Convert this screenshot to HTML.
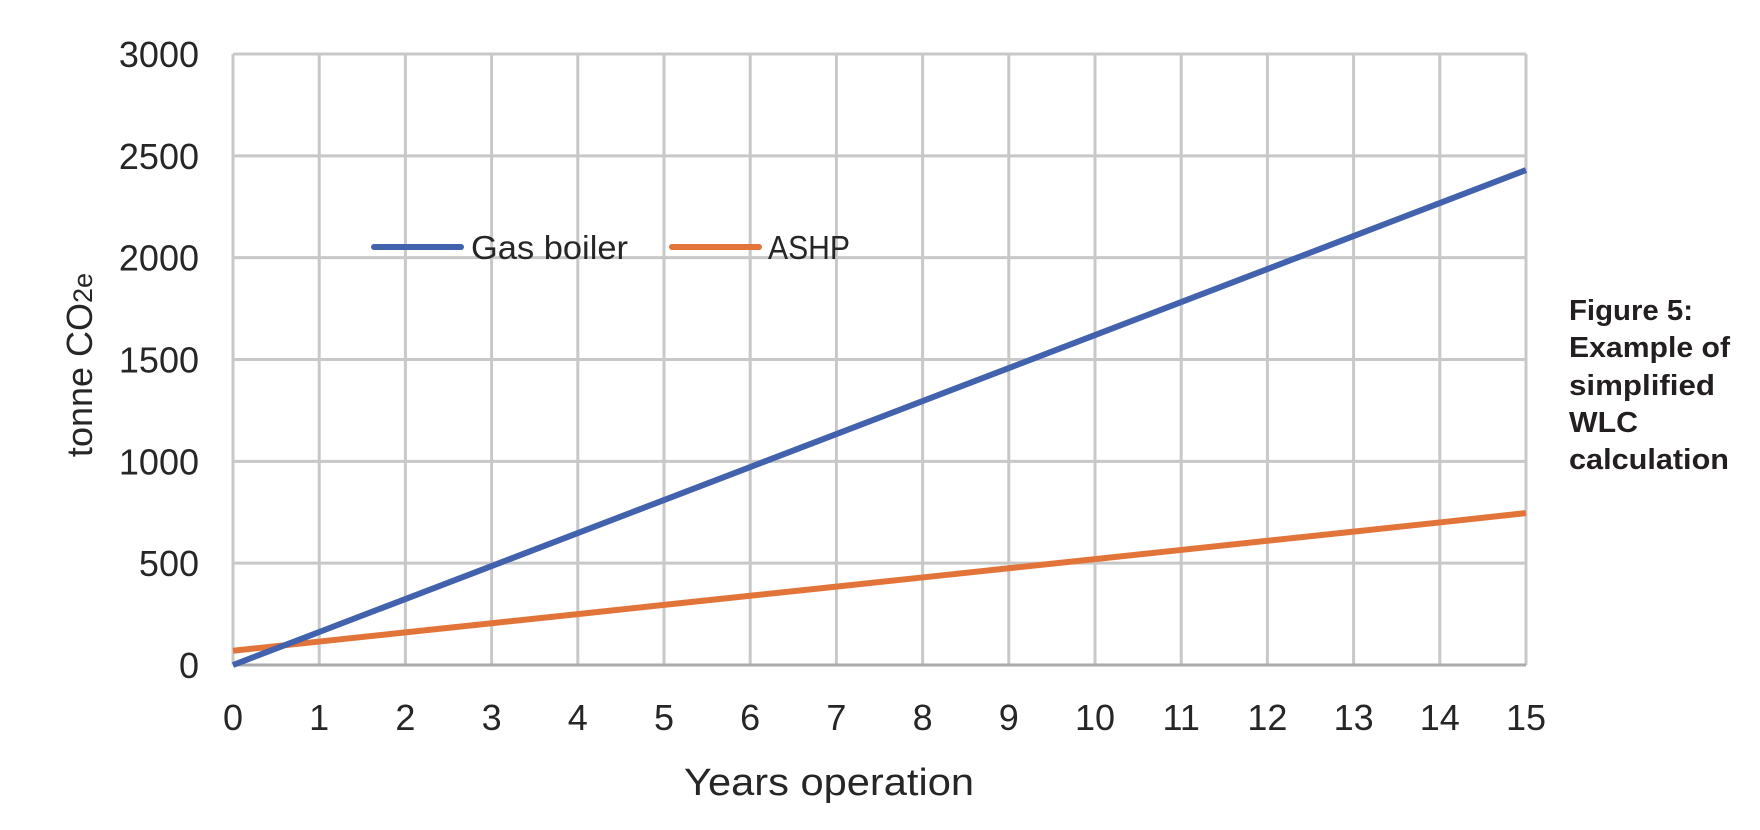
<!DOCTYPE html>
<html><head><meta charset="utf-8"><style>
body{margin:0;background:#fff}
svg{display:block;font-family:"Liberation Sans",sans-serif}
</style></head><body>
<svg id="chart" width="1760" height="830" viewBox="0 0 1760 830" xmlns="http://www.w3.org/2000/svg">
<g id="grid"></g>
<g id="ticks" fill="#262626" font-size="36"></g>
<g id="series"></g>
<text transform="translate(92,365) rotate(-90)" text-anchor="middle" font-size="36" fill="#262626">tonne CO<tspan font-size="27">2e</tspan></text>
<text x="829" y="795" text-anchor="middle" font-size="38" fill="#262626" textLength="290" lengthAdjust="spacingAndGlyphs">Years operation</text>
<g>
<line x1="374" y1="247" x2="461" y2="247" stroke="#4262AE" stroke-width="6" stroke-linecap="round"/>
<text x="471" y="259" font-size="33" fill="#262626" textLength="157" lengthAdjust="spacingAndGlyphs">Gas boiler</text>
<line x1="672" y1="247" x2="759" y2="247" stroke="#E2743A" stroke-width="6" stroke-linecap="round"/>
<text x="768" y="259" font-size="33" fill="#262626" textLength="82" lengthAdjust="spacingAndGlyphs">ASHP</text>
</g>
<g font-weight="bold" font-size="29" fill="#231f20">
<text x="1569" y="320" textLength="124" lengthAdjust="spacingAndGlyphs">Figure 5:</text>
<text x="1569" y="357" textLength="161" lengthAdjust="spacingAndGlyphs">Example of</text>
<text x="1569" y="395" textLength="146" lengthAdjust="spacingAndGlyphs">simplified</text>
<text x="1569" y="432" textLength="69" lengthAdjust="spacingAndGlyphs">WLC</text>
<text x="1569" y="469" textLength="160" lengthAdjust="spacingAndGlyphs">calculation</text>
</g>
</svg>
<script>
const xTicks=[0,1,2,3,4,5,6,7,8,9,10,11,12,13,14,15];
const yTicks=[0,500,1000,1500,2000,2500,3000];
const years=[0,1,2,3,4,5,6,7,8,9,10,11,12,13,14,15];
const gasBoiler=[0,162,324,486,648,810,972,1134,1296,1458,1620,1782,1944,2106,2268,2430];
const ashp=[70,115,160,205,250,295,340,385,430,475,520,565,610,655,700,746];
const L=233,R=1526,T=54,B=665;
const xs=v=>L+(v-0)/15*(R-L);
const ys=v=>B-(v/3000)*(B-T);
const NS="http://www.w3.org/2000/svg";
function mk(tag,attrs,parent){const e=document.createElementNS(NS,tag);for(const k in attrs)e.setAttribute(k,attrs[k]);parent.appendChild(e);return e;}
const grid=document.getElementById('grid'),ticks=document.getElementById('ticks'),series=document.getElementById('series');
xTicks.forEach(t=>{
 const l=mk('line',{x1:xs(t),x2:xs(t),y1:T,y2:B,stroke:'#c8c8c8','stroke-width':3},grid);
 
 
 const tx=mk('text',{x:xs(t),y:730,'text-anchor':'middle'},ticks);tx.textContent=t;
 
 
});
yTicks.forEach(t=>{
 const l=mk('line',{x1:L,x2:R,y1:ys(t),y2:ys(t),stroke:t===0?'#aaaaaa':'#c8c8c8','stroke-width':3},grid);
 
 
 const tx=mk('text',{x:199,y:ys(t)+13,'text-anchor':'end'},ticks);tx.textContent=t;
 
 
});
function line(vals,color,name){
 const p=mk('polyline',{points:vals.map((v,i)=>xs(years[i])+','+ys(v)).join(' '),fill:'none',stroke:color,'stroke-width':6,'stroke-linejoin':'round'},series);
 
 
}
line(ashp,'#E2743A','ashp-line');
line(gasBoiler,'#4262AE','gas-boiler-line');
</script>
</body></html>
